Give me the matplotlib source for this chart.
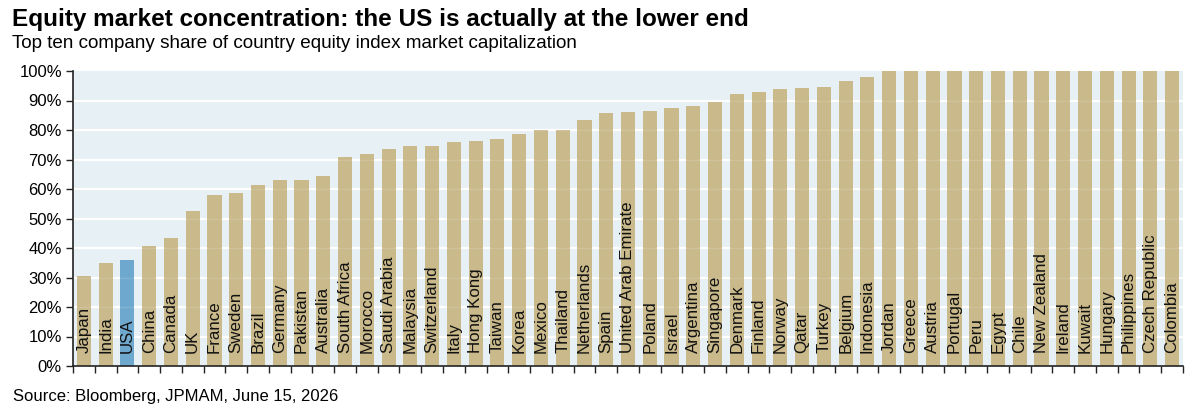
import matplotlib
matplotlib.use("Agg")
import matplotlib.pyplot as plt
from matplotlib.ticker import FuncFormatter, MultipleLocator
import numpy as np

plt.rcParams['font.family'] = ['Liberation Sans', 'DejaVu Sans']

countries = ["Japan", "India", "USA", "China", "Canada", "UK", "France", "Sweden", "Brazil",
             "Germany", "Pakistan", "Australia", "South Africa", "Morocco", "Saudi Arabia",
             "Malaysia", "Switzerland", "Italy", "Hong Kong", "Taiwan", "Korea", "Mexico",
             "Thailand", "Netherlands", "Spain", "United Arab Emirate", "Poland", "Israel",
             "Argentina", "Singapore", "Denmark", "Finland", "Norway", "Qatar", "Turkey",
             "Belgium", "Indonesia", "Jordan", "Greece", "Austria", "Portugal", "Peru",
             "Egypt", "Chile", "New Zealand", "Ireland", "Kuwait", "Hungary", "Philippines",
             "Czech Republic", "Colombia"]
shares = [30.4, 35.0, 35.8, 40.7, 43.3, 52.7, 57.9, 58.5, 61.2,
          62.9, 63.1, 64.3, 70.9, 71.7, 73.7,
          74.6, 74.6, 76.1, 76.4, 76.8, 78.8, 79.9,
          80.1, 83.3, 85.8, 86.0, 86.4, 87.4,
          88.3, 89.5, 92.2, 92.9, 93.8, 94.3, 94.7,
          96.6, 98.1, 100, 100, 100, 100, 100,
          100, 100, 100, 100, 100, 100, 100,
          100, 100]
highlight = "USA"

tan = "#c9b98b"
blue = "#6fa8cf"
bg = "#e7f0f4"

fig = plt.figure(figsize=(12.04, 4.12), dpi=100)
ax = fig.add_axes([73/1204, 1-366/412, (1183-73)/1204, (366-71)/412])
ax.set_facecolor(bg)

x = np.arange(len(countries))
colors = [blue if c == highlight else tan for c in countries]
ax.bar(x, shares, width=0.65, color=colors, zorder=2)

ax.set_xlim(-0.5, len(countries) - 0.5)
ax.set_ylim(0, 100)
ax.yaxis.set_major_locator(MultipleLocator(10))
ax.yaxis.set_major_formatter(FuncFormatter(lambda v, p: f"{v:.0f}%"))
for yv in range(10, 100, 10):
    ax.axhline(yv, color="white", lw=1.6, zorder=1)
    ax.axhline(yv, color="white", lw=1.0, alpha=0.12, zorder=3)

ax.set_xticks(np.arange(-0.5, len(countries)))
ax.set_xticklabels([])
ax.tick_params(axis='x', direction='out', length=5, width=1, color='#222222')
ax.tick_params(axis='y', direction='out', length=5, width=1, color='#222222',
               labelsize=12, pad=3)

for s in ["top", "right"]:
    ax.spines[s].set_visible(False)
for s in ["left", "bottom"]:
    ax.spines[s].set_color("#222222")
    ax.spines[s].set_linewidth(1.2)

for xi, name in zip(x, countries):
    ax.text(xi, 4.4, name, rotation=90, ha='center', va='bottom', fontsize=12.2,
            color='#111111', zorder=4)

fig.text(12/1204, 1-26/412, "Equity market concentration: the US is actually at the lower end",
         fontsize=17.5, fontweight='bold', ha='left', va='baseline')
fig.text(12/1204, 1-48/412, "Top ten company share of country equity index market capitalization",
         fontsize=13.6, ha='left', va='baseline')
fig.text(13/1204, 1-401/412, "Source: Bloomberg, JPMAM, June 15, 2026",
         fontsize=12, ha='left', va='baseline')

fig.savefig("out.png", dpi=100)
